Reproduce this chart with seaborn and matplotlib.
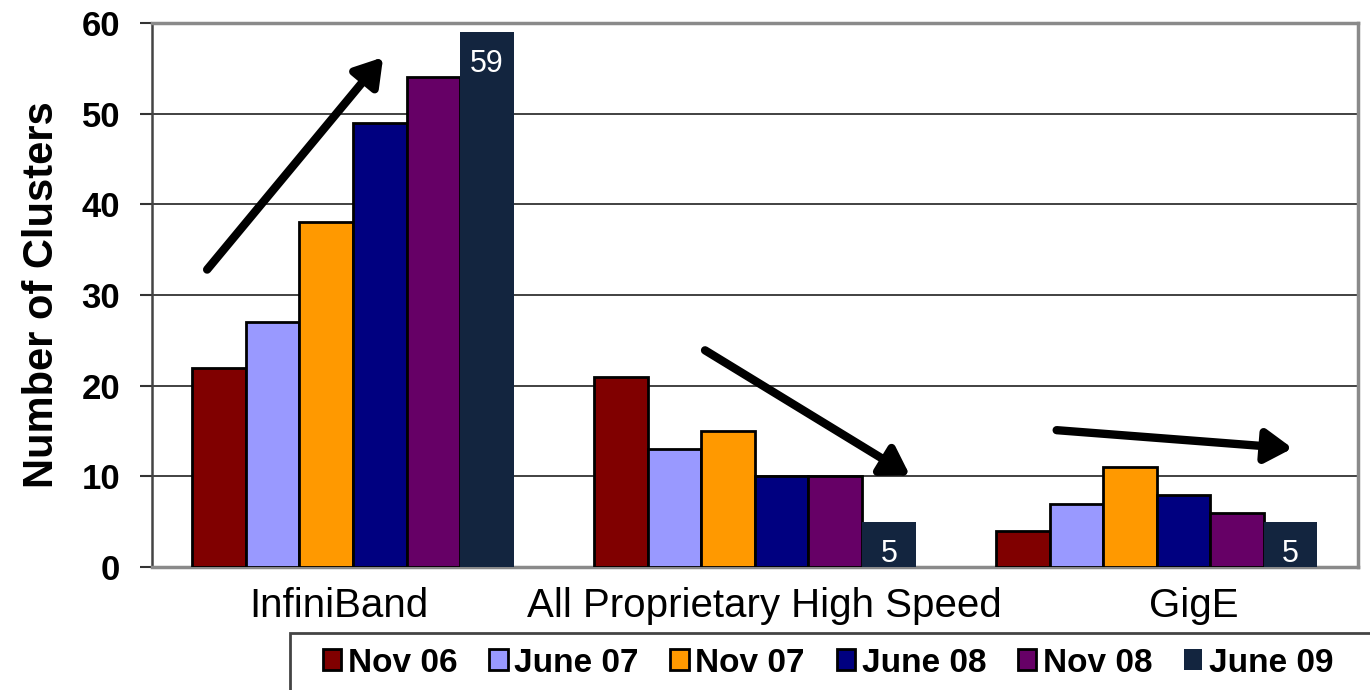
import matplotlib
matplotlib.use("Agg")
import matplotlib.pyplot as plt
from matplotlib.patches import FancyArrowPatch, Rectangle
from matplotlib.transforms import offset_copy
import seaborn as sns
import pandas as pd

# Interconnect families on the x axis
categories = ["InfiniBand", "All Proprietary High Speed", "GigE"]
# List editions (legend order)
periods = ["Nov 06", "June 07", "Nov 07", "June 08", "Nov 08", "June 09"]

# Number of clusters per interconnect, one list per list edition
nov06 = [22, 21, 4]
june07 = [27, 13, 7]
nov07 = [38, 15, 11]
june08 = [49, 10, 8]
nov08 = [54, 10, 6]
june09 = [59, 5, 5]

y_ticks = [0, 10, 20, 30, 40, 50, 60]

colors = ["#800000", "#9999FF", "#FF9900", "#000080", "#660066", "#13253F"]

series = [nov06, june07, nov07, june08, nov08, june09]
rows = []
for period, values in zip(periods, series):
    for cat, v in zip(categories, values):
        rows.append({"interconnect": cat, "period": period, "clusters": v})
df = pd.DataFrame(rows)

sns.set_theme(style="white")
plt.rcParams["font.family"] = ["Liberation Sans", "DejaVu Sans"]
plt.rcParams["text.color"] = "black"
plt.rcParams["axes.labelcolor"] = "black"
plt.rcParams["xtick.color"] = "black"
plt.rcParams["ytick.color"] = "black"

W, H = 1370, 690
fig = plt.figure(figsize=(W / 100, H / 100), dpi=100)
ax = fig.add_axes([0.111, 0.178, 0.880, 0.789])

sns.barplot(data=df, x="interconnect", y="clusters", hue="period",
            order=categories, hue_order=periods, palette=colors,
            edgecolor="black", linewidth=2, width=0.8, saturation=1,
            ax=ax, zorder=3)

# The latest edition is drawn without an outline
for bar in ax.containers[-1]:
    bar.set_edgecolor(bar.get_facecolor())
    bar.set_linewidth(0)

# Value labels inside the top of the latest edition's bars
ax.bar_label(ax.containers[-1], labels=[str(v) for v in june09],
             label_type="edge", padding=-34, color="white", fontsize=22,
             zorder=5)

ax.set_xlim(-0.5, 2.5)
ax.set_ylim(0, 60)
ax.set_yticks(y_ticks)
ax.yaxis.grid(True, color="#333333", linewidth=1.3, zorder=0)
ax.set_axisbelow(True)
ax.tick_params(axis="y", which="major", left=True, length=9, width=1.5,
               color="#333333", labelcolor="black", labelsize=25, pad=14)
for lbl in ax.get_yticklabels():
    lbl.set_fontweight("bold")
ax.tick_params(axis="x", length=0, labelsize=29, labelcolor="black", pad=14)
# Category labels sit slightly off the group centres
for lbl, dx in zip(ax.get_xticklabels(), [-14, 10, 37]):
    lbl.set_transform(offset_copy(lbl.get_transform(), fig=fig, x=dx, y=0,
                                  units="dots"))
ax.set_xlabel("")
ax.set_ylabel("Number of Clusters", fontsize=30, fontweight="bold",
              labelpad=14, color="black")

for side in ["top", "right", "bottom"]:
    ax.spines[side].set_color("#8a8a8a")
    ax.spines[side].set_linewidth(2.5)
    ax.spines[side].set_visible(True)
ax.spines["left"].set_color("#444444")
ax.spines["left"].set_linewidth(1.8)
ax.spines["left"].set_visible(True)

# Trend arrows
arrows = [((-0.363, 32.8), (0.075, 56.2)),
          ((0.876, 23.9), (1.386, 10.1)),
          ((1.751, 15.1), (2.338, 13.1))]
for (x0, y0), (x1, y1) in arrows:
    ax.add_patch(FancyArrowPatch((x0, y0), (x1, y1),
                                 arrowstyle="-|>,head_length=0.8,head_width=0.5",
                                 mutation_scale=20, color="black",
                                 linewidth=6, shrinkA=0, shrinkB=0, zorder=6))

# Legend box running off the bottom-right corner of the figure
fig.patches.append(Rectangle((290 / W, -0.05), 1.0, (1 - 633 / H) + 0.05,
                             transform=fig.transFigure, facecolor="white",
                             edgecolor="#444444", linewidth=2, zorder=0))

handles, labels = ax.get_legend_handles_labels()
ax.get_legend().remove()
leg = fig.legend(handles, labels, loc="center left",
                 bbox_to_anchor=(323 / W, 1 - 663 / H),
                 ncol=6, frameon=False, borderaxespad=0, borderpad=0,
                 prop={"weight": "bold", "size": 24},
                 handlelength=0.55, handleheight=0.6, handletextpad=0.2,
                 columnspacing=0.95)
for t in leg.get_texts():
    t.set_color("black")
for h in leg.legend_handles:
    h.set_linewidth(2)
leg.legend_handles[-1].set_linewidth(0)

fig.savefig("out.png", dpi=100)
